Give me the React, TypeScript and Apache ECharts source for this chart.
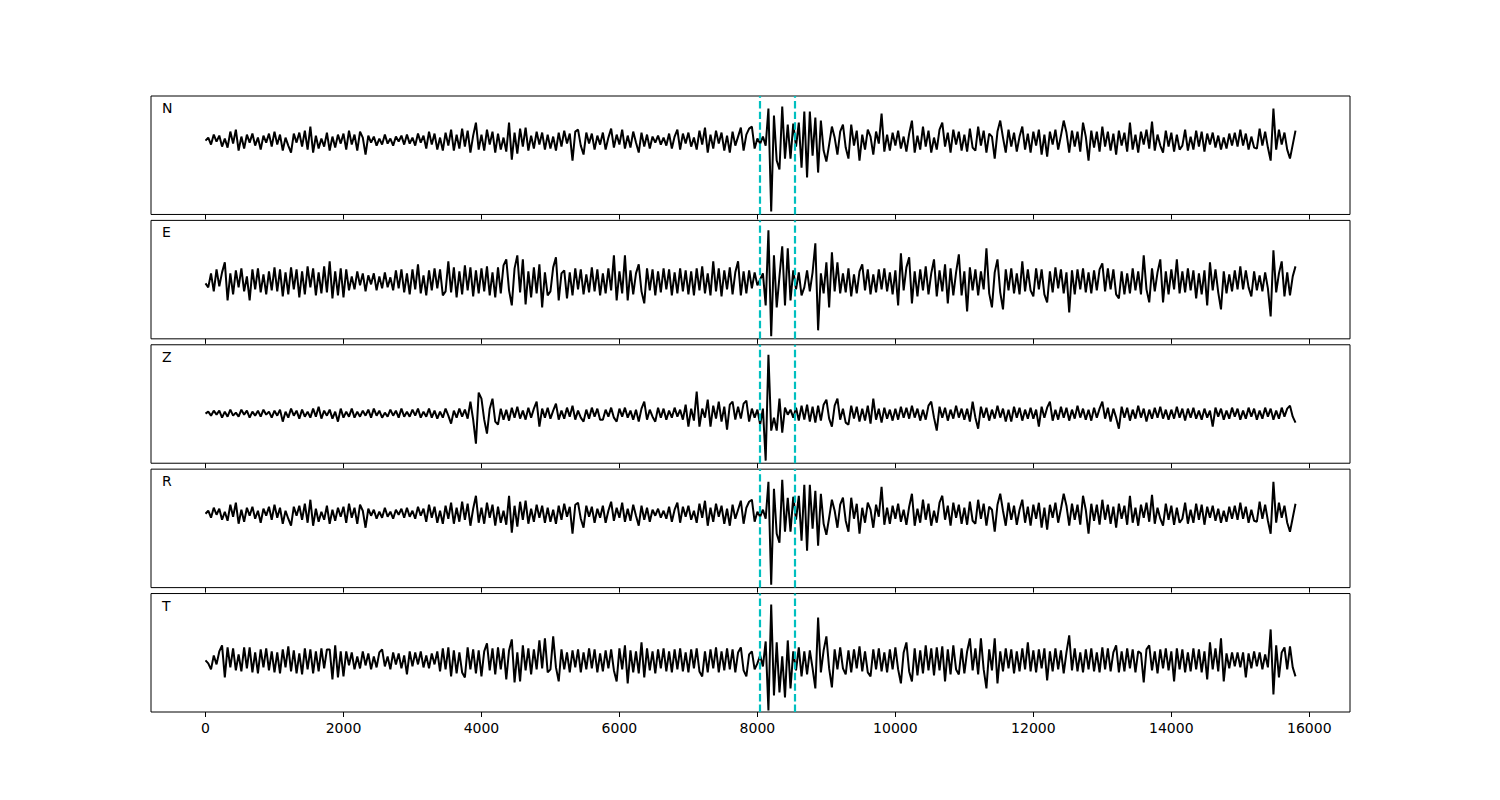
import React, { useEffect, useRef } from "react";
import * as echarts from "echarts";

const SAMPLE_STEP = 40;

const channels = ["N", "E", "Z", "R", "T"];
const arrivals = [8033, 8541];
const xTicks = [0, 2000, 4000, 6000, 8000, 10000, 12000, 14000, 16000];
const xRange = [-790, 16590];

// amplitude limits of each panel (same units as the traces)
const yMins = [-73.9, -57.5, -49.6, -73.9, -51.6];
const yMaxs = [44.6, 61, 68.9, 44.6, 66.9];

// traces, one value every SAMPLE_STEP units from 0 to 15800
const nValues = [
  0, 3, -4, 6, -1, 5, -6, 2, -7, 9, -3, 11, -10, 4, -8, 6, -2, 7, -5, 3, -9, 5, -2, 7, -6,
  9, -4, 6, -10, 3, -5, -12, 7, -2, 8, -6, 10, -9, 14, -12, 5, -8, 2, -6, 8, -10, 4, -7, 6, -3,
  7, -9, 10, -4, 6, -10, 9, 3, -14, 5, -2, 4, -5, 2, -4, 6, -3, 2, -5, 4, -1, 5, -4, 6, -3,
  3, -5, 7, -2, 5, -8, 9, -4, 7, -9, 3, -10, 8, -5, 11, -10, 6, -8, 12, -6, 10, -12, 5, 18, -9,
  6, -10, 11, -4, 9, -12, 7, -9, 3, -11, 18, -19, 8, -13, 12, -6, 13, -10, 5, -8, 9, -4, 8, -9, 6,
  -8, 4, -10, 8, -6, 10, -3, 7, -20, 9, 11, -5, -14, 8, -3, 7, -9, 5, -4, 8, -9, 3, 12, -7, 6,
  -4, 11, -8, 5, -7, 9, -2, -12, 8, -6, 6, -8, 4, -2, 5, -4, 3, -5, 7, -8, 4, 11, -9, 7, -3,
  8, -6, 3, -9, 10, -4, 13, -12, 6, -8, 10, -3, 8, -10, 5, -12, 9, -5, 4, 13, -10, 6, 12, 14, -8,
  2, -3, 4, -5, 32, -71, 25, -20, -29, 34, -18, 16, -18, 17, -6, 18, -27, 29, -37, 29, -15, 23, -32, 20, -10,
  -21, -4, 14, 3, -14, 9, 16, -7, -18, 16, -5, 10, -20, 6, -9, 11, 4, -14, 9, -3, 27, -11, 6, -10, 8,
  -5, 10, -8, 4, -11, 7, 20, -12, 5, -9, 14, -6, 10, -12, 3, -9, 11, 18, -6, 8, -12, 11, -4, 9, -10,
  6, -11, 12, -7, -10, 14, -5, 10, -12, 7, 4, -18, 9, 20, 3, -12, 11, -6, 8, -11, 4, 14, -9, 7, -12,
  9, -5, 11, -14, 6, -16, 9, -4, 11, -9, 5, 20, 8, -12, 10, -6, 9, -11, 18, 4, -20, 10, -7, 9, -11,
  14, -6, 9, -10, 7, -14, 10, -5, 8, -11, 18, -9, 6, -12, 9, -4, 11, -8, 19, -10, 6, -5, -12, 10, -6,
  8, -11, 6, -9, -5, 11, -10, 4, -9, 10, -6, 9, -11, 7, -4, 8, -7, 5, -9, 3, -8, 7, -5, 8, -6,
  11, -5, 7, -9, 4, -7, -8, 12, -5, 9, -7, -20, 32, -9, 11, -4, 8, -9, -18, -4, 10,
];

const eValues = [
  -2, -6, 8, -10, 12, -5, 9, 19, -19, 8, -13, 11, -6, 13, -10, 5, -19, 12, -8, 13, -11, 7, -13, 10, -9,
  14, -10, 12, -15, 9, -13, 14, -8, 12, -16, 10, -13, 15, -6, 13, -14, 9, -12, 15, -11, 20, -17, 10, -14, 13,
  -16, 12, -9, 5, -8, 10, -4, 8, -10, 6, -3, 8, -9, 5, -7, 9, -6, 4, -9, 11, -7, 12, -11, 8, -13,
  12, -8, 17, -12, 6, -14, 11, -9, 13, -7, 12, -14, -10, 20, -11, 14, -16, 10, -13, 16, -9, 14, -15, 11, -12,
  13, -10, 15, -14, 9, -16, 14, -12, 16, 22, -9, -24, 13, 26, -11, 22, -23, 10, -16, 14, -12, 17, -26, 9, -14,
  -10, 14, 24, -19, 8, 11, -17, 9, -14, 13, -8, 12, -13, 7, -11, 14, -10, 12, -14, 8, -12, 13, -9, 26, -19,
  10, -12, 26, -19, 11, -13, 8, 17, -10, -22, 13, -9, 12, -14, 10, -11, 13, -8, 12, -14, 9, -12, 13, -10, 11,
  -13, 10, -14, 13, -9, 15, -12, 8, -14, 20, -10, 13, -15, 11, -8, 14, -13, 9, 20, -14, 10, -12, 11, -7, 9,
  -4, 2, 8, -24, 51, -55, 26, -26, 5, 35, -24, 33, -19, 11, -8, 9, -14, -6, 11, -10, 9, 38, -49, 8, -12,
  19, -26, 29, -10, 19, -12, 8, -11, 13, -15, 7, -12, 10, 17, -9, 12, -13, 7, -11, 12, -8, 13, -10, 9, -13,
  11, -24, 28, -9, 14, 24, -22, 10, -15, 12, -9, 15, -13, 8, 22, -15, 11, -10, 17, -22, 13, -14, 9, 27, -14,
  10, -30, 14, -9, 12, -14, 10, -8, 33, -12, -26, 9, 22, -11, -28, 12, -9, 13, -12, 8, -13, 20, -10, 12, -9,
  -15, 13, -8, 12, -13, -21, 10, -11, 14, -7, 12, -12, 9, -31, 11, -13, 12, -8, 13, -11, 9, -12, 11, -9, 12,
  18, -10, 13, -8, 12, -13, -17, 10, -13, 8, -12, 13, -9, 10, -13, 26, -8, -21, 13, -10, 9, 22, -21, 10, -13,
  12, -8, 22, -12, 10, -11, 13, -9, 11, -17, 8, -13, 11, -24, 19, -9, 12, -11, -28, 10, -12, 7, -10, 11, -8,
  15, -8, 11, -6, -15, 10, -9, 6, -10, 9, -7, -35, 31, -11, 8, 20, -15, 9, -14, 5, 15,
];

const zValues = [
  0, 2, -2, 3, -1, 3, -4, 2, -3, 4, -2, 1, -3, 4, -1, 3, -4, 2, -2, 3, -3, 4, -1, 2, -4,
  3, -2, 4, -8, 2, -4, 5, -2, 3, -5, 4, -3, 2, -4, 5, -3, 7, -5, 3, -2, 4, -5, 2, -8, 5,
  -4, 2, -3, 5, -4, 2, -3, 3, -2, 4, -4, 5, -2, 3, -4, 1, -3, 4, -2, 3, -4, 5, -3, 2, -3,
  4, -2, 5, -4, 2, -3, 5, -4, 3, -5, 2, -4, 5, -2, -10, 3, -4, 5, -3, 4, -5, 12, -6, -30, 21,
  15, -6, -20, 5, 15, -8, -11, 5, -6, 4, -7, 6, -4, 7, -5, 3, -6, 6, -4, 5, 12, -13, 5, -4, 6,
  -5, 3, 10, -6, 3, -5, 6, -3, 8, -6, 3, -4, -8, 4, -5, 6, -3, 5, -6, -6, 4, -3, 6, -4, -8,
  5, -3, 6, -4, 3, -6, 4, -8, 5, 12, -6, 4, -3, -8, 6, -4, 5, -6, 3, -4, 6, -3, 4, -6, 9,
  -13, 5, -7, 22, -13, 5, -4, 14, -13, 8, -5, 12, -8, 7, -16, 9, 12, -6, 7, -5, 10, 13, -8, 5, -4,
  4, -11, 5, -47, 59, -17, -4, -17, 15, -19, 6, -1, 4, -4, 6, -7, 8, -6, 9, -8, 7, -9, 8, -7, 9,
  14, -5, -13, 8, 15, -6, 5, -9, -11, 8, -5, 7, -8, 5, -7, 8, -10, 15, -6, 5, -9, 6, -5, 4, -7,
  5, -6, 7, -4, 6, -5, 8, -4, 5, -7, 4, -6, 8, 12, -4, -17, 7, -4, 6, -7, 4, -5, 8, -4, 5,
  -6, 5, -8, 12, -4, -15, 7, -4, 6, -7, 4, -5, 8, -4, 5, -8, 4, -8, 7, -4, 6, -7, 4, -5, 6,
  -5, 4, -13, 7, -4, 6, 12, -7, 4, -6, 7, -4, 6, -7, 4, -5, 8, -4, 5, -6, 4, -7, 6, -4, 5,
  12, -5, 6, -8, 5, -4, -15, 7, -4, 6, -7, 4, -5, 8, -4, 5, -8, 4, -5, 6, -4, 7, -5, 4, -6,
  4, -5, 7, -4, 5, -7, 5, -4, 6, -5, 3, -6, 5, -4, 3, -13, 6, -3, 5, -6, 3, -5, 6, -3, 5,
  -6, 3, -5, 6, -3, 5, -6, 3, -5, 6, -3, 5, -6, 3, -5, 6, -3, 5, 8, -3, -9,
];

// the R trace reads the same as the N trace in the reference
const rValues = [...nValues];

const tValues = [
  0, -3, -9, 5, -4, 9, 15, -17, 13, -7, 12, -10, 6, -11, 13, -8, 13, -12, 8, -13, 11, -7, 12, -10, 9,
  -12, 8, -13, 11, -7, 14, -11, 10, -13, 7, -14, 12, -9, 11, -13, 9, -11, 12, -8, 11, 11, -19, 15, -17, 9,
  -16, 9, -5, 8, -9, 4, -8, 9, -5, 7, -9, 4, -7, 8, 11, -6, 4, -9, 8, -4, 7, -8, 5, -14, 9,
  -6, 8, -4, 9, -7, 5, -8, 7, -4, 9, -11, 12, -9, 13, -16, 10, -13, 8, -12, -17, 13, -9, 11, -13, 10,
  -16, 9, 17, -10, 12, -14, 13, -9, 12, -19, 10, 21, -22, 8, -21, 15, -10, 12, -14, 11, -9, 20, -8, 22, -12,
  -9, 24, -7, -21, 11, -9, 8, -12, 10, -7, 11, -12, 8, -9, 12, -8, 11, -12, 7, -11, 10, -8, 11, -10, -21,
  12, -9, 15, -23, 10, -12, 9, -13, 18, -17, 12, -10, 9, -13, 11, -8, 12, -11, 9, -12, 11, -9, 12, -11, 8,
  -12, 11, -8, 12, -11, -16, 9, -12, 11, -8, 13, -12, 9, -10, 12, -9, 11, -12, 8, 13, -10, -16, 6, 9, -9,
  -3, 5, -6, 19, -50, 56, -35, 18, -32, 4, -37, 20, -28, 9, -10, 13, -16, 9, -14, 10, -8, -28, 43, -12, 10,
  24, -8, -27, 11, -9, 13, -8, -14, 10, -12, 11, -8, 14, -11, 9, -12, -16, 11, -9, 12, -11, 8, -12, 11, -9,
  13, -9, -23, 8, 18, -11, -21, 12, -15, 10, -13, 15, -10, 12, -15, 13, -10, 14, -21, 11, -14, 15, -9, -14, 12,
  -13, 9, 22, -10, 12, -14, 22, -9, -28, 11, -10, 22, -23, 9, -11, 12, -8, 11, -13, 9, -11, 12, -9, 18, -11,
  10, -12, 11, -8, 12, -20, 9, -11, 12, -9, 10, -13, 8, 25, -10, 12, -11, 8, -12, 11, -9, 12, -11, 8, -12,
  13, -9, 12, -11, 8, 15, -12, 9, -11, 12, -8, 11, -12, 9, 7, -22, 11, 15, -10, 9, -13, 11, -8, 12, -10,
  9, -21, 12, -9, 11, -12, 8, -11, 12, -9, 11, -12, 9, -19, 18, -9, 12, -11, 22, -21, 7, -8, 8, -6, 8,
  -7, 8, -17, 7, -8, 9, -6, 8, -9, 6, -7, 31, -34, 15, -17, 8, 13, -9, 14, -7, -16,
];

const traces = [nValues, eValues, zValues, rValues, tValues];

// layout (pixels)
const GRID_LEFT = 151;
const GRID_WIDTH = 1199;
const GRID_HEIGHT = 118.46;
const GRID_TOPS = [96, 220.38, 344.77, 469.15, 593.54];

export default function App() {
  const ref = useRef<HTMLDivElement>(null);

  useEffect(() => {
    if (!ref.current) return;
    const chart = echarts.init(ref.current, undefined, { renderer: "svg" });
    const n = channels.length;

    const grids = channels.map((_, i) => ({
      left: GRID_LEFT,
      top: GRID_TOPS[i],
      width: GRID_WIDTH,
      height: GRID_HEIGHT,
      show: true,
      borderColor: "#000",
      borderWidth: 1,
      backgroundColor: "transparent",
      containLabel: false,
      outerBoundsMode: "none",
    }));

    const xAxes = channels.map((_, i) => ({
      type: "value",
      gridIndex: i,
      position: "bottom",
      min: xRange[0],
      max: xRange[1],
      axisLine: { show: false, onZero: false },
      splitLine: { show: false },
      axisTick: {
        show: true,
        inside: false,
        length: 5,
        customValues: xTicks,
        lineStyle: { color: "#000", width: 1 },
      },
      axisLabel: {
        show: i === n - 1,
        customValues: xTicks,
        formatter: (v: number) => String(v),
        margin: 9,
        color: "#000",
        fontSize: 14,
        fontFamily: "DejaVu Sans",
      },
    }));

    const yAxes = channels.map((_, i) => ({
      type: "value",
      gridIndex: i,
      min: yMins[i],
      max: yMaxs[i],
      show: false,
    }));

    const series = channels.map((name, i) => ({
      name,
      type: "line",
      xAxisIndex: i,
      yAxisIndex: i,
      data: traces[i].map((v, k) => [k * SAMPLE_STEP, v]),
      showSymbol: false,
      symbol: "none",
      lineStyle: { color: "#000", width: 2 },
      silent: true,
      z: 2,
      markLine: {
        silent: true,
        symbol: ["none", "none"],
        label: { show: false },
        lineStyle: { color: "#00bfbf", width: 2.2, type: [7.4, 3.2], opacity: 1 },
        data: arrivals.map((a) => ({ xAxis: a })),
        z: 3,
      },
    }));

    const graphic = channels.map((name, i) => ({
      type: "text",
      left: 162,
      top: GRID_TOPS[i] + 5,
      style: {
        text: name,
        fill: "#000",
        font: "14px 'DejaVu Sans'",
      },
    }));

    chart.setOption({
      animation: false,
      backgroundColor: "#fff",
      grid: grids,
      xAxis: xAxes,
      yAxis: yAxes,
      series,
      graphic,
    });

    return () => chart.dispose();
  }, []);

  return (
    <div
      ref={ref}
      style={{ position: "absolute", left: 0, top: 0, width: 1500, height: 800 }}
    />
  );
}
